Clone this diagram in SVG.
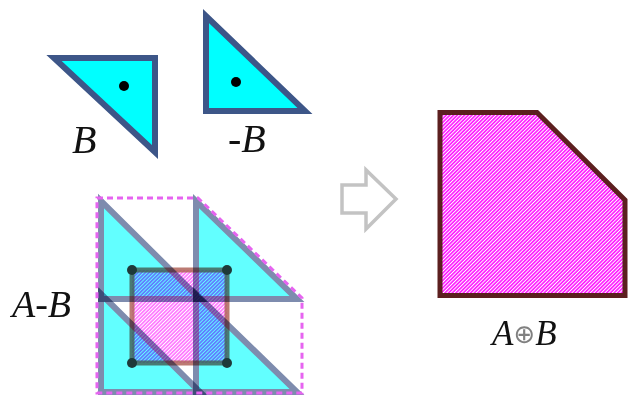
<svg xmlns="http://www.w3.org/2000/svg" width="628" height="398" viewBox="0 0 628 398">
  <defs>
    <pattern id="hatch" patternUnits="userSpaceOnUse" width="2.6" height="2.6" patternTransform="rotate(45)">
      <rect x="0" y="0" width="2.6" height="2.6" fill="#ff22ff"/>
      <rect x="0" y="0" width="0.9" height="2.6" fill="#ffffff"/>
    </pattern>
    <style>
      .lbl { font-family: "Liberation Serif", "Times New Roman", serif; font-style: italic; fill: #111; }
      .tri { fill: #00ffff; stroke: #3d5688; stroke-width: 6; stroke-linejoin: miter; }
      .mtri { fill: #62ffff; stroke: #7e8cae; stroke-width: 6; stroke-linejoin: miter; mix-blend-mode: multiply; }
      .dot { fill: #000; }
      .adot { fill: #1e3a3a; }
    </style>
  </defs>
  <rect width="628" height="398" fill="#ffffff"/>

  <g id="B">
    <polygon class="tri" points="54,58 155,58 155,152"/>
    <circle class="dot" cx="124" cy="86" r="5"/>
    <text class="lbl" x="72" y="153" font-size="40">B</text>
  </g>

  <g id="negB">
    <polygon class="tri" points="206,16 206,111 305,111"/>
    <circle class="dot" cx="236" cy="82" r="5"/>
    <text class="lbl" x="228" y="152" font-size="40">-B</text>
  </g>

  <g id="AminusB">
    <rect x="132" y="270" width="95" height="93" fill="url(#hatch)" fill-opacity="0.6" stroke="#b0645a" stroke-opacity="0.85" stroke-width="5"/>
    <polygon class="mtri" points="101,201 101,299 200,299"/>
    <polygon class="mtri" points="196,201 196,299 297,299"/>
    <polygon class="mtri" points="101,294 101,392 200,392"/>
    <polygon class="mtri" points="196,294 196,392 297,392"/>
    <circle class="adot" cx="132" cy="270" r="5"/>
    <circle class="adot" cx="227" cy="270" r="5"/>
    <circle class="adot" cx="132" cy="363" r="5"/>
    <circle class="adot" cx="227" cy="363" r="5"/>
    <polygon points="97,198 198,198 302,298 302,393 97,393" fill="none" stroke="#e664f0" stroke-width="3" stroke-dasharray="6 4"/>
    <text class="lbl" x="12" y="317" font-size="38">A-B</text>
  </g>

  <g id="connectors">
    <polygon points="342,185 366,185 366,170 396,199 366,229 366,213 342,213" fill="#ffffff" stroke="#c3c3c3" stroke-width="3.5" stroke-linejoin="miter"/>
  </g>

  <g id="AplusB">
    <polygon points="440,112.5 537,112.5 625,200 625,295.5 440,295.5" fill="url(#hatch)" stroke="#5c1f1f" stroke-width="5"/>
    <text class="lbl" x="492" y="345" font-size="35">A<tspan font-family="DejaVu Sans, sans-serif" font-style="normal" font-size="26" fill="#808080" dy="-2">⊕</tspan><tspan dy="2">B</tspan></text>
  </g>
</svg>
